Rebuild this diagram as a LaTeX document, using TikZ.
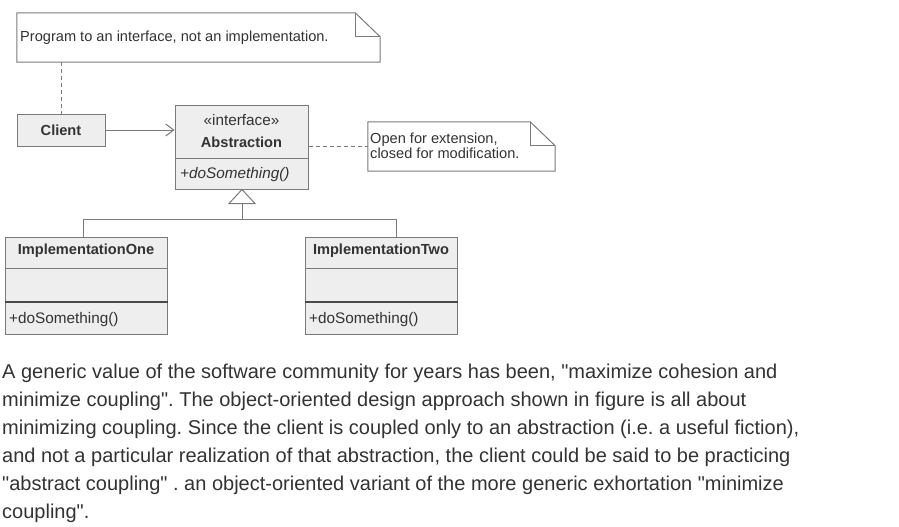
\documentclass[tikz,border=0pt]{standalone}
\usepackage{fontspec}
\setmainfont{Liberation Sans}[Ligatures=TeXOff]
\usetikzlibrary{arrows.meta,positioning}
\definecolor{ln}{HTML}{7A7A7A}
\definecolor{lndark}{HTML}{4A4A4A}
\definecolor{fillg}{HTML}{EEEEEE}
\definecolor{txt}{HTML}{333333}
\frenchspacing
\tikzset{
  box/.style={draw=ln, fill=fillg, line width=1pt, inner sep=0pt},
  notebox/.style={inner sep=0pt},
  notepath/.style={draw=ln, fill=white, line width=1pt},
  lbl/.style={text=txt, inner sep=0pt, font=\fontsize{15.3}{17}\selectfont},
  notelbl/.style={text=txt, inner sep=0pt, font=\fontsize{14.6}{15.5}\selectfont},
  blbl/.style={text=txt, inner sep=0pt, font=\bfseries\fontsize{14.6}{16}\selectfont},
  para/.style={text=txt, inner sep=0pt, anchor=base west, font=\fontsize{20}{22}\selectfont},
  conn/.style={draw=ln, line width=1pt},
  thickdiv/.style={draw=lndark, line width=2pt},
  dconn/.style={draw=ln, line width=1pt, dash pattern=on 4pt off 3pt},
}
\begin{document}
\begin{tikzpicture}[x=1pt,y=-1pt]
\useasboundingbox[fill=white] (0,0) rectangle (899,527);

% note 1
\node[notebox, minimum width=363pt, minimum height=49pt] (n1) at (198.5,37.5) {};
\path[notepath] (n1.north west) -- ([xshift=-25pt]n1.north east) -- ([yshift=-24pt]n1.north east) -- (n1.south east) -- (n1.south west) -- cycle;
\draw[conn] ([xshift=-25pt]n1.north east) -- ([xshift=-25pt,yshift=-24pt]n1.north east) -- ([yshift=-24pt]n1.north east);
\node[notelbl, anchor=west] (n1t) at (20,38) {Program to an interface, not an implementation.};

% note 2
\node[notebox, minimum width=187pt, minimum height=49pt] (n2) at (461.5,146.5) {};
\path[notepath] (n2.north west) -- ([xshift=-25pt]n2.north east) -- ([yshift=-24pt]n2.north east) -- (n2.south east) -- (n2.south west) -- cycle;
\draw[conn] ([xshift=-25pt]n2.north east) -- ([xshift=-25pt,yshift=-24pt]n2.north east) -- ([yshift=-24pt]n2.north east);
\node[notelbl, anchor=west, align=left] (n2t) at (370,146) {Open for extension,\\closed for modification.};

% client
\node[box, minimum width=88pt, minimum height=32pt] (client) at (61,130) {};
\node[blbl] (clientt) at (61,130) {Client};

% abstraction
\node[box, minimum width=133pt, minimum height=84pt] (abs) at (241.5,147) {};
\draw[conn] (abs.west |- 0,158) coordinate (absd1) -- (abs.east |- 0,158);
\node[lbl] (abst1) at (241.5,120) {«interface»};
\node[blbl] (abst2) at (241.5,142) {Abstraction};
\node[lbl, anchor=west, font=\itshape\fontsize{15.3}{17}\selectfont] (abst3) at (180,174.5) {+doSomething()};

% implementation one
\node[box, minimum width=162pt, minimum height=97pt] (imp1) at (86,285.5) {};
\draw[conn] (imp1.west |- 0,268) -- (imp1.east |- 0,268);
\draw[thickdiv] (imp1.west |- 0,301.5) -- (imp1.east |- 0,301.5);
\node[blbl] (imp1t) at (86,251) {ImplementationOne};
\node[lbl, anchor=west] (imp1o) at (9,319.5) {+doSomething()};

% implementation two
\node[box, minimum width=152pt, minimum height=97pt] (imp2) at (381,285.5) {};
\draw[conn] (imp2.west |- 0,268) -- (imp2.east |- 0,268);
\draw[thickdiv] (imp2.west |- 0,301.5) -- (imp2.east |- 0,301.5);
\node[blbl] (imp2t) at (381,251) {ImplementationTwo};
\node[lbl, anchor=west] (imp2o) at (309,319.5) {+doSomething()};

% connectors
\draw[dconn] (n1.south west -| client.north) -- (client.north);
\draw[conn, -{Straight Barb[length=8pt,width=12pt]}] (client.east) -- (abs.west |- client.east);
\draw[dconn] (abs.east |- n2.west) -- (n2.west);
\coordinate (tri) at (242,203);
\coordinate (bus) at (242,219);
\draw[conn] (abs.south -| tri) -- ++(-13,14) -- ++(26,0) -- cycle;
\draw[conn] (tri) -- (bus);
\draw[conn] (imp1.north -| 83,0) -- (83,219) -- (396,219) -- (imp2.north -| 396,0);

% paragraph
\node[para] (p1) at (2,378) {A generic value of the software community for years has been, "maximize cohesion and};
\node[para] (p2) at (2,406) {minimize coupling". The object-oriented design approach shown in figure is all about};
\node[para] (p3) at (2,434) {minimizing coupling. Since the client is coupled only to an abstraction (i.e. a useful fiction),};
\node[para] (p4) at (2,462) {and not a particular realization of that abstraction, the client could be said to be practicing};
\node[para] (p5) at (2,490) {"abstract coupling" . an object-oriented variant of the more generic exhortation "minimize};
\node[para] (p6) at (2,518) {coupling".};
\end{tikzpicture}
\end{document}
